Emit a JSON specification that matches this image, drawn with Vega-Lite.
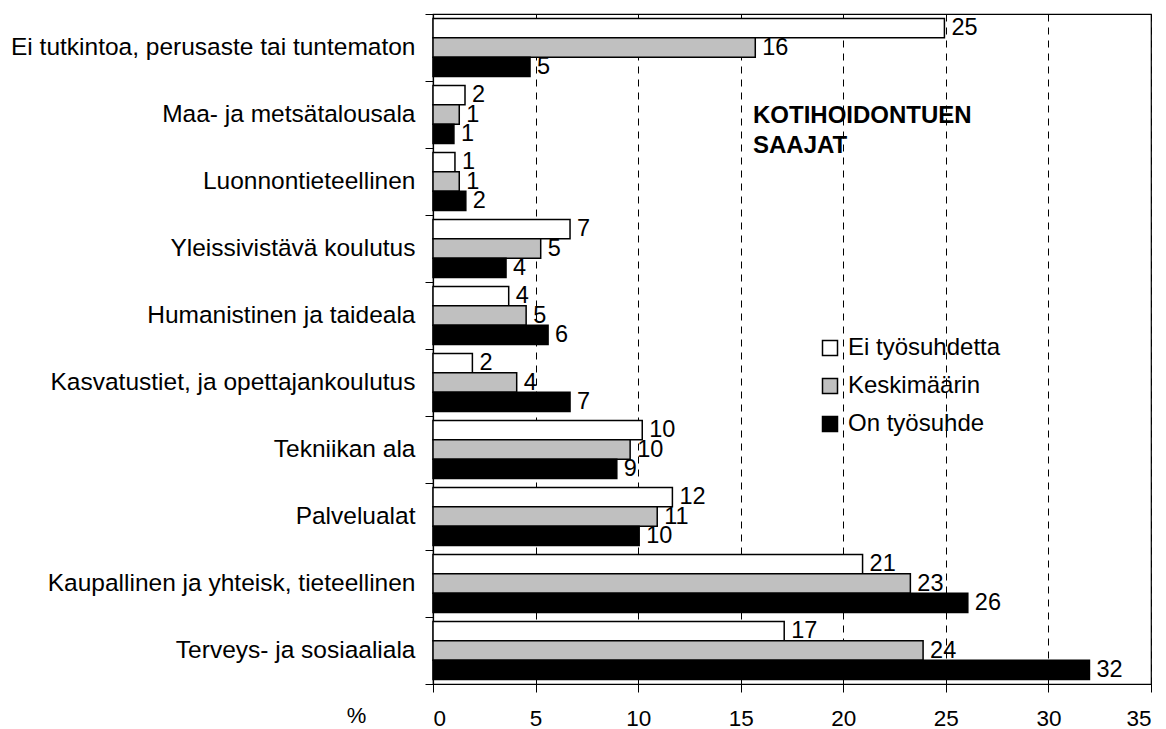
{
  "$schema": "https://vega.github.io/schema/vega-lite/v6.json",
  "width": 718,
  "height": 670,
  "autosize": {"type": "none"},
  "padding": {"left": 433, "top": 14, "right": 15, "bottom": 45},
  "background": "white",
  "config": {
    "font": "Liberation Sans",
    "view": {"stroke": "black", "strokeWidth": 1.2},
    "axis": {"labelColor": "black", "domainColor": "black", "tickColor": "black", "titleColor": "black"}
  },
  "data": {
    "values": [
      {"ala": "Ei tutkintoa, perusaste tai tuntematon", "ryhma": "Ei työsuhdetta", "osuus": 24.93},
      {"ala": "Ei tutkintoa, perusaste tai tuntematon", "ryhma": "Keskimäärin", "osuus": 15.71},
      {"ala": "Ei tutkintoa, perusaste tai tuntematon", "ryhma": "On työsuhde", "osuus": 4.73},
      {"ala": "Maa- ja metsätalousala", "ryhma": "Ei työsuhdetta", "osuus": 1.56},
      {"ala": "Maa- ja metsätalousala", "ryhma": "Keskimäärin", "osuus": 1.28},
      {"ala": "Maa- ja metsätalousala", "ryhma": "On työsuhde", "osuus": 1.02},
      {"ala": "Luonnontieteellinen", "ryhma": "Ei työsuhdetta", "osuus": 1.07},
      {"ala": "Luonnontieteellinen", "ryhma": "Keskimäärin", "osuus": 1.28},
      {"ala": "Luonnontieteellinen", "ryhma": "On työsuhde", "osuus": 1.6},
      {"ala": "Yleissivistävä koulutus", "ryhma": "Ei työsuhdetta", "osuus": 6.68},
      {"ala": "Yleissivistävä koulutus", "ryhma": "Keskimäärin", "osuus": 5.25},
      {"ala": "Yleissivistävä koulutus", "ryhma": "On työsuhde", "osuus": 3.56},
      {"ala": "Humanistinen ja taideala", "ryhma": "Ei työsuhdetta", "osuus": 3.69},
      {"ala": "Humanistinen ja taideala", "ryhma": "Keskimäärin", "osuus": 4.54},
      {"ala": "Humanistinen ja taideala", "ryhma": "On työsuhde", "osuus": 5.61},
      {"ala": "Kasvatustiet, ja opettajankoulutus", "ryhma": "Ei työsuhdetta", "osuus": 1.92},
      {"ala": "Kasvatustiet, ja opettajankoulutus", "ryhma": "Keskimäärin", "osuus": 4.08},
      {"ala": "Kasvatustiet, ja opettajankoulutus", "ryhma": "On työsuhde", "osuus": 6.68},
      {"ala": "Tekniikan ala", "ryhma": "Ei työsuhdetta", "osuus": 10.2},
      {"ala": "Tekniikan ala", "ryhma": "Keskimäärin", "osuus": 9.61},
      {"ala": "Tekniikan ala", "ryhma": "On työsuhde", "osuus": 8.96},
      {"ala": "Palvelualat", "ryhma": "Ei työsuhdetta", "osuus": 11.67},
      {"ala": "Palvelualat", "ryhma": "Keskimäärin", "osuus": 10.93},
      {"ala": "Palvelualat", "ryhma": "On työsuhde", "osuus": 10.05},
      {"ala": "Kaupallinen ja yhteisk, tieteellinen", "ryhma": "Ei työsuhdetta", "osuus": 20.94},
      {"ala": "Kaupallinen ja yhteisk, tieteellinen", "ryhma": "Keskimäärin", "osuus": 23.27},
      {"ala": "Kaupallinen ja yhteisk, tieteellinen", "ryhma": "On työsuhde", "osuus": 26.07},
      {"ala": "Terveys- ja sosiaaliala", "ryhma": "Ei työsuhdetta", "osuus": 17.12},
      {"ala": "Terveys- ja sosiaaliala", "ryhma": "Keskimäärin", "osuus": 23.89},
      {"ala": "Terveys- ja sosiaaliala", "ryhma": "On työsuhde", "osuus": 32.0}
    ]
  },
  "encoding": {
    "y": {
      "field": "ala",
      "type": "nominal",
      "sort": null,
      "scale": {"paddingInner": 0, "paddingOuter": 0},
      "axis": {
        "title": null,
        "bandPosition": 1,
        "tickExtra": true,
        "tickSize": 8,
        "labelFontSize": 24.5,
        "labelPadding": 10,
        "labelLimit": 500,
        "domainWidth": 1.2
      }
    }
  },
  "layer": [
    {
      "mark": {"type": "bar", "stroke": "black", "strokeWidth": 1.5},
      "encoding": {
        "yOffset": {
          "field": "ryhma",
          "type": "nominal",
          "sort": ["Ei työsuhdetta", "Keskimäärin", "On työsuhde"],
          "scale": {"paddingInner": 0, "paddingOuter": 0.233}
        },
        "x": {
          "field": "osuus",
          "type": "quantitative",
          "scale": {"domain": [0, 35], "nice": false},
          "axis": {
            "values": [0, 5, 10, 15, 20, 25, 30, 35],
            "grid": true,
            "gridColor": "black",
            "gridDash": [7, 6],
            "gridWidth": 1,
            "tickSize": 8,
            "labelFontSize": 22.5,
            "labelPadding": 15,
            "domainWidth": 1.2,
            "title": "%",
            "titleFontSize": 22,
            "titleFontWeight": "normal",
            "titleX": -77,
            "titleY": 38,
            "titleAlign": "center",
            "titleBaseline": "alphabetic",
            "titleAnchor": null
          }
        },
        "color": {
          "field": "ryhma",
          "type": "nominal",
          "scale": {
            "domain": ["Ei työsuhdetta", "Keskimäärin", "On työsuhde"],
            "range": ["#ffffff", "#c0c0c0", "#000000"]
          },
          "legend": {
            "title": null,
            "orient": "none",
            "legendX": 385,
            "legendY": 322,
            "padding": 0,
            "symbolType": "square",
            "symbolSize": 225,
            "symbolStrokeColor": "black",
            "symbolStrokeWidth": 1.5,
            "symbolOpacity": 1,
            "labelFontSize": 24,
            "labelColor": "black",
            "labelOffset": 6,
            "rowPadding": 14
          }
        }
      }
    },
    {
      "mark": {"type": "text", "align": "left", "baseline": "middle", "dx": 7, "fontSize": 23.5, "color": "black"},
      "encoding": {
        "yOffset": {
          "field": "ryhma",
          "type": "nominal",
          "sort": ["Ei työsuhdetta", "Keskimäärin", "On työsuhde"]
        },
        "x": {"field": "osuus", "type": "quantitative"},
        "text": {"field": "osuus", "type": "quantitative", "format": ".0f"}
      }
    },
    {
      "data": {"values": [{"merkinta": "KOTIHOIDONTUEN SAAJAT"}]},
      "mark": {"type": "text", "align": "left", "baseline": "alphabetic", "dy": 8.5, "fontSize": 24, "fontWeight": "bold", "lineHeight": 30, "color": "black",
               "text": ["KOTIHOIDONTUEN", "SAAJAT"]},
      "encoding": {
        "x": {"datum": 15.6, "type": "quantitative"},
        "y": {"datum": "Maa- ja metsätalousala", "type": "nominal"}
      }
    }
  ]
}
